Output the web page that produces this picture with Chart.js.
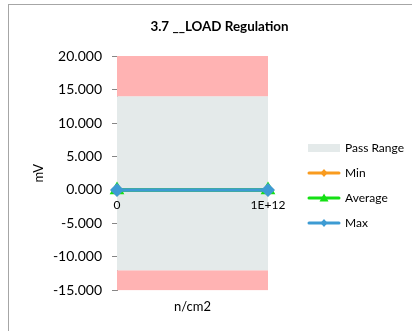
<!DOCTYPE html>
<html>
<head>
<meta charset="utf-8">
<script src="https://cdn.jsdelivr.net/npm/chart.js@4.4.0/dist/chart.umd.min.js"></script>
<style>
    html, body { margin: 0; padding: 0; background: #fff; }
    #wrap { position: relative; width: 412px; height: 331px; overflow: hidden; }
    #frame { position: absolute; left: 8px; top: 4px; width: 420px; height: 340px; border: 1px solid #a6a6a6; box-sizing: border-box; pointer-events: none; }
</style>
</head>
<body>
<div id="wrap">
    <canvas id="graficoLoad" width="412" height="331"></canvas>
    <div id="frame"></div>
</div>
<script>
// data
const categories = ['0', '1E+12'];
const minValues = [0, 0];
const avgValues = [0, 0];
const maxValues = [0, 0];
const passRange = [-12, 14];   // lower / upper limit
const yRange = [-15, 20];
const yStep = 5;

const FONT = 'Lato, "Open Sans", sans-serif';

// small canvas used as legend symbol (line + marker)
function legendSymbol(color, marker) {
    const c = document.createElement('canvas');
    c.width = 34; c.height = 12;
    const g = c.getContext('2d');
    g.strokeStyle = color; g.fillStyle = color;
    g.lineWidth = 3; g.lineCap = 'round';
    g.beginPath(); g.moveTo(2, 6); g.lineTo(32, 6); g.stroke();
    g.beginPath();
    if (marker === 'triangle') {
        g.moveTo(17, 1.5); g.lineTo(21.5, 9.5); g.lineTo(12.5, 9.5);
    } else {
        g.moveTo(17, 2); g.lineTo(20.5, 6); g.lineTo(17, 10); g.lineTo(13.5, 6);
    }
    g.closePath(); g.fill();
    return c;
}
function legendBox(color) {
    const c = document.createElement('canvas');
    c.width = 32; c.height = 8;
    const g = c.getContext('2d');
    g.fillStyle = color; g.fillRect(0, 0, 32, 8);
    return c;
}

// legend: fixed width, moved a bit right / down like the Excel original
const legendPlacement = {
    id: 'legendPlacement',
    beforeLayout(chart) {
        const lg = chart.legend;
        if (lg && !lg._fixedWidth) {
            const fit = lg.fit;
            lg.fit = function () { fit.call(this); this.width = 136; };
            lg._fixedWidth = true;
        }
    },
    afterLayout(chart) {
        const lg = chart.legend;
        if (lg) {
            lg.left += 28; lg.right += 28;
            lg.top += 23; lg.bottom += 23;
        }
        const tb = chart.titleBlock;
        if (tb) { tb.left += 5; tb.right += 5; }
    }
};

const PINK = '#ffb3b3';
const GREY = '#e4eaea';
const ORANGE = '#f99b1f';
const GREEN = '#14e014';
const BLUE = '#3d9bd3';

const ctx = document.getElementById('graficoLoad').getContext('2d');
new Chart(ctx, {
    type: 'line',
    data: {
        labels: categories,
        datasets: [
            {
                label: 'upper', data: categories.map(() => yRange[1]),
                fill: { value: passRange[1] }, backgroundColor: PINK,
                borderWidth: 0, pointRadius: 0, order: 10
            },
            {
                label: 'Pass Range', data: categories.map(() => passRange[1]),
                fill: { value: passRange[0] }, backgroundColor: GREY,
                borderWidth: 0, pointRadius: 0, order: 10
            },
            {
                label: 'lower', data: categories.map(() => passRange[0]),
                fill: { value: yRange[0] }, backgroundColor: PINK,
                borderWidth: 0, pointRadius: 0, order: 10
            },
            {
                label: 'Min', data: minValues, borderColor: ORANGE, backgroundColor: ORANGE,
                borderWidth: 3.5, pointStyle: 'rectRot', pointRadius: 4, fill: false, order: 3
            },
            {
                label: 'Average', data: avgValues, borderColor: GREEN, backgroundColor: GREEN,
                borderWidth: 3.5, pointStyle: 'triangle', pointRadius: 5, fill: false, order: 2
            },
            {
                label: 'Max', data: maxValues, borderColor: BLUE, backgroundColor: BLUE,
                borderWidth: 3.5, pointStyle: 'rectRot', pointRadius: 4.5, fill: false, order: 1
            }
        ]
    },
    plugins: [legendPlacement],
    options: {
        responsive: false,
        animation: false,
        layout: { padding: { left: 25, right: 8, top: 10, bottom: 16 } },
        plugins: {
            title: {
                display: true, text: '3.7 __LOAD Regulation', color: '#000',
                font: { family: FONT, size: 13.4, weight: 'bold' },
                padding: { top: 9, bottom: 21 }
            },
            legend: {
                position: 'right',
                labels: {
                    color: '#000',
                    font: { family: FONT, size: 12 },
                    usePointStyle: true,
                    pointStyleWidth: 30,
                    padding: 13,
                    generateLabels: function (chart) {
                        const syms = {
                            'Pass Range': legendBox(GREY),
                            'Min': legendSymbol(ORANGE, 'diamond'),
                            'Average': legendSymbol(GREEN, 'triangle'),
                            'Max': legendSymbol(BLUE, 'diamond')
                        };
                        return chart.data.datasets
                            .map((ds, i) => ({ ds, i }))
                            .filter(o => syms[o.ds.label])
                            .map(o => ({
                                text: o.ds.label,
                                datasetIndex: o.i,
                                pointStyle: syms[o.ds.label],
                                fillStyle: 'transparent',
                                strokeStyle: 'transparent',
                                lineWidth: 0,
                                fontColor: '#000'
                            }));
                    }
                }
            },
            tooltip: { enabled: false }
        },
        scales: {
            x: {
                type: 'category', offset: false, position: { y: 0 },
                grid: { display: false, drawTicks: false }, border: { display: false },
                ticks: { z: 1, padding: 8, color: '#000', font: { family: FONT, size: 12 }, maxRotation: 0, autoSkip: false }
            },
            xTitle: {
                type: 'category', axis: 'x', position: 'bottom', offset: false,
                grid: { display: false, drawTicks: false }, border: { display: false },
                ticks: { display: false },
                title: { display: true, text: 'n/cm2', color: '#000', font: { family: FONT, size: 13 }, padding: { top: 9, bottom: 0 } }
            },
            y: {
                min: yRange[0], max: yRange[1],
                grid: { drawOnChartArea: false, drawTicks: true, tickLength: 5, color: '#868686' },
                border: { color: '#868686' },
                ticks: {
                    stepSize: yStep, padding: 10, color: '#000',
                    font: { family: FONT, size: 14 },
                    callback: v => v.toFixed(3)
                },
                title: { display: true, text: 'mV', color: '#000', font: { family: FONT, size: 13 }, padding: { top: 6, bottom: 0 } },
                afterFit: s => { s.width = 92; }
            }
        }
    }
});
</script>
</body>
</html>
